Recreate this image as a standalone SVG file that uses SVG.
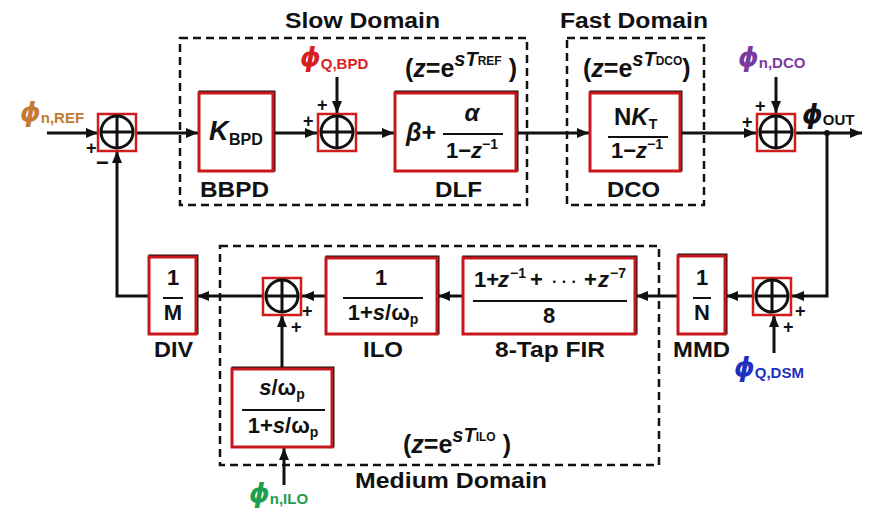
<svg xmlns="http://www.w3.org/2000/svg" width="871" height="518" viewBox="0 0 871 518">
<style>
text{font-family:"Liberation Sans",Arial,sans-serif;font-weight:bold;fill:#111}
.blk{fill:#fff;stroke:#c8161d;stroke-width:3}
.sh{fill:none;stroke:#111;stroke-width:3}
.dom{fill:none;stroke:#111;stroke-width:2.5;stroke-dasharray:8 5}
.ln{fill:none;stroke:#111;stroke-width:3}
.fr{stroke:#111;stroke-width:2}
.sq{fill:#fff;stroke:#d21c1c;stroke-width:2.5}
.cir{fill:none;stroke:#111;stroke-width:3}
.lbl{font-size:22px}
.it{font-style:italic}
.pl{font-size:18px}
.phi{font-family:"DejaVu Sans","Liberation Sans",sans-serif;font-style:italic;font-size:26px}
.sub{font-family:"Liberation Sans",Arial,sans-serif;font-style:normal;font-size:15px}
</style>
<defs>
<marker id="ah" markerUnits="userSpaceOnUse" markerWidth="12" markerHeight="10" refX="12" refY="5" orient="auto">
<path d="M0,0 L12,5 L0,10 z" fill="#111"/>
</marker>
<g id="sumSym">
<rect class="sq" x="-19" y="-18" width="38" height="37"/>
<circle class="cir" cx="0" cy="0" r="16"/>
<path d="M-16,0 H16 M0,-16 V16" stroke="#111" stroke-width="3"/>
</g>
</defs>

<!-- Domains -->
<g id="slow-domain">
<rect class="dom" x="180" y="38" width="347" height="167"/>
<text x="285" y="28" class="lbl" textLength="155" lengthAdjust="spacingAndGlyphs">Slow Domain</text>
<text x="405" y="77" font-size="25">(<tspan class="it">z</tspan>=e<tspan class="it" font-size="20" dy="-11">sT</tspan><tspan font-size="12" dy="-1">REF</tspan><tspan dy="12"> )</tspan></text>
</g>
<g id="fast-domain">
<rect class="dom" x="567" y="38" width="137" height="167"/>
<text x="560" y="28" class="lbl" textLength="148" lengthAdjust="spacingAndGlyphs">Fast Domain</text>
<text x="583" y="77" font-size="25">(<tspan class="it">z</tspan>=e<tspan class="it" font-size="20" dy="-11">sT</tspan><tspan font-size="12" dy="-1">DCO</tspan><tspan dy="12">)</tspan></text>
</g>
<g id="medium-domain">
<rect class="dom" x="220" y="246" width="439" height="219"/>
<text x="355" y="488" class="lbl" textLength="192" lengthAdjust="spacingAndGlyphs">Medium Domain</text>
<text x="403" y="453" font-size="25">(<tspan class="it">z</tspan>=e<tspan class="it" font-size="20" dy="-11">sT</tspan><tspan font-size="12" dy="-1">ILO</tspan><tspan dy="12"> )</tspan></text>
</g>

<!-- Connectors -->
<g id="connectors">
<path class="ln" d="M47,133 H98" marker-end="url(#ah)"/>
<path class="ln" d="M136,133 H198" marker-end="url(#ah)"/>
<path class="ln" d="M273,133 H317" marker-end="url(#ah)"/>
<path class="ln" d="M337,77 V113" marker-end="url(#ah)"/>
<path class="ln" d="M356,133 H394" marker-end="url(#ah)"/>
<path class="ln" d="M516,133 H589" marker-end="url(#ah)"/>
<path class="ln" d="M680,133 H756" marker-end="url(#ah)"/>
<path class="ln" d="M776,77 V113" marker-end="url(#ah)"/>
<path class="ln" d="M795,133 H862" marker-end="url(#ah)"/>
<path class="ln" d="M827,133 V296 H792" marker-end="url(#ah)"/>
<circle cx="827" cy="133" r="3" fill="#111"/>
<path class="ln" d="M774,353 V315" marker-end="url(#ah)"/>
<path class="ln" d="M752,296 H726" marker-end="url(#ah)"/>
<path class="ln" d="M678,296 H636" marker-end="url(#ah)"/>
<path class="ln" d="M463,296 H438" marker-end="url(#ah)"/>
<path class="ln" d="M326,296 H302" marker-end="url(#ah)"/>
<path class="ln" d="M282,369 V315" marker-end="url(#ah)"/>
<path class="ln" d="M284,485 V448" marker-end="url(#ah)"/>
<path class="ln" d="M262,296 H197" marker-end="url(#ah)"/>
<path class="ln" d="M149,296 H117 V151" marker-end="url(#ah)"/>
</g>

<!-- Summing nodes -->
<g id="sum-ref">
<use href="#sumSym" x="117" y="132"/>
<text x="20" y="121" class="phi" style="fill:#c47a32">ϕ<tspan class="sub" dy="2" style="fill:#c47a32">n,REF</tspan></text>
<text x="86" y="154" class="pl">+</text>
<text x="96" y="170" font-size="22">−</text>
</g>
<g id="sum-bpd">
<use href="#sumSym" x="337" y="132"/>
<text x="300" y="66" class="phi" style="fill:#d61f1f">ϕ<tspan class="sub" dy="3" style="fill:#d61f1f">Q,BPD</tspan></text>
<text x="317" y="111" class="pl">+</text>
<text x="303" y="127" class="pl">+</text>
</g>
<g id="sum-dco">
<use href="#sumSym" x="776" y="132"/>
<text x="738" y="66" class="phi" style="fill:#7b3a9e">ϕ<tspan class="sub" dy="2" style="fill:#7b3a9e">n,DCO</tspan></text>
<text x="755" y="112" class="pl">+</text>
<text x="742" y="128" class="pl">+</text>
<text x="802" y="123" class="phi">ϕ<tspan class="sub" dy="2">OUT</tspan></text>
</g>
<g id="sum-dsm">
<use href="#sumSym" x="772" y="296"/>
<text x="734" y="376" class="phi" style="fill:#1f2fbf">ϕ<tspan class="sub" dy="2" style="fill:#1f2fbf">Q,DSM</tspan></text>
<text x="795" y="317" class="pl">+</text>
<text x="783" y="333" class="pl">+</text>
</g>
<g id="sum-ilo">
<use href="#sumSym" x="282" y="296"/>
<text x="249" y="502" class="phi" style="fill:#1f9e4f">ϕ<tspan class="sub" dy="2" style="fill:#1f9e4f">n,ILO</tspan></text>
<text x="302" y="317" class="pl">+</text>
<text x="291" y="333" class="pl">+</text>
</g>

<!-- Blocks -->
<g id="bbpd">
<rect class="sh" x="200" y="92" width="74" height="78"/>
<rect class="blk" x="199" y="93" width="74" height="78"/>
<text x="209" y="140" font-size="27" class="it">K</text>
<text x="229" y="145" font-size="16">BPD</text>
<text x="200" y="197" class="lbl" textLength="69" lengthAdjust="spacingAndGlyphs">BBPD</text>
</g>
<g id="dlf">
<rect class="sh" x="396" y="92" width="121" height="78"/>
<rect class="blk" x="395" y="93" width="121" height="78"/>
<text x="406" y="141" font-size="25"><tspan class="it">β</tspan>+</text>
<text x="472" y="121" font-size="24" class="it" text-anchor="middle">α</text>
<line class="fr" x1="443" y1="134" x2="503" y2="134"/>
<text x="446" y="158" font-size="22">1−<tspan class="it">z</tspan><tspan font-size="14" dy="-9">−1</tspan></text>
<text x="435" y="197" class="lbl" textLength="47" lengthAdjust="spacingAndGlyphs">DLF</text>
</g>
<g id="dco">
<rect class="sh" x="591" y="92" width="90" height="78"/>
<rect class="blk" x="590" y="93" width="90" height="78"/>
<text x="614" y="125" font-size="24">N<tspan class="it">K</tspan><tspan font-size="14" dy="4">T</tspan></text>
<line class="fr" x1="608" y1="137" x2="668" y2="137"/>
<text x="611" y="158" font-size="22">1−<tspan class="it">z</tspan><tspan font-size="14" dy="-9">−1</tspan></text>
<text x="607" y="197" class="lbl" textLength="53" lengthAdjust="spacingAndGlyphs">DCO</text>
</g>
<g id="mmd">
<rect class="sh" x="679" y="255" width="47" height="78"/>
<rect class="blk" x="678" y="256" width="47" height="78"/>
<text x="702" y="285" font-size="22" text-anchor="middle">1</text>
<line class="fr" x1="693" y1="298" x2="711" y2="298"/>
<text x="702" y="320" font-size="22" text-anchor="middle">N</text>
<text x="673" y="357" class="lbl" textLength="57" lengthAdjust="spacingAndGlyphs">MMD</text>
</g>
<g id="fir">
<rect class="sh" x="464" y="257" width="172" height="76"/>
<rect class="blk" x="463" y="258" width="172" height="76"/>
<text y="287" font-size="22"><tspan x="474">1+</tspan><tspan x="498" class="it">z</tspan><tspan x="510" y="278" font-size="14">−1</tspan><tspan x="530" y="287">+</tspan><tspan x="552" font-size="16">· · ·</tspan><tspan x="584">+</tspan><tspan x="598" class="it">z</tspan><tspan x="610" y="278" font-size="14">−7</tspan></text>
<line class="fr" x1="473" y1="301" x2="627" y2="301"/>
<text x="549" y="323" font-size="22" text-anchor="middle">8</text>
<text x="495" y="357" class="lbl" textLength="110" lengthAdjust="spacingAndGlyphs">8-Tap FIR</text>
</g>
<g id="ilo">
<rect class="sh" x="327" y="257" width="111" height="76"/>
<rect class="blk" x="326" y="258" width="111" height="76"/>
<text x="381" y="285" font-size="22" text-anchor="middle">1</text>
<line class="fr" x1="343" y1="298" x2="423" y2="298"/>
<text x="383" y="320" font-size="22" text-anchor="middle">1+<tspan class="it">s</tspan>/ω<tspan font-size="14" dy="4">p</tspan></text>
<text x="363" y="357" class="lbl" textLength="40" lengthAdjust="spacingAndGlyphs">ILO</text>
</g>
<g id="hpf">
<rect class="sh" x="233" y="368" width="100" height="78"/>
<rect class="blk" x="232" y="369" width="100" height="78"/>
<text x="282" y="395" font-size="22" text-anchor="middle"><tspan class="it">s</tspan>/ω<tspan font-size="14" dy="4">p</tspan></text>
<line class="fr" x1="242" y1="410" x2="325" y2="410"/>
<text x="283" y="433" font-size="22" text-anchor="middle">1+<tspan class="it">s</tspan>/ω<tspan font-size="14" dy="4">p</tspan></text>
</g>
<g id="div">
<rect class="sh" x="150" y="256" width="47" height="77"/>
<rect class="blk" x="149" y="257" width="47" height="77"/>
<text x="173" y="285" font-size="22" text-anchor="middle">1</text>
<line class="fr" x1="163" y1="298" x2="183" y2="298"/>
<text x="173" y="320" font-size="22" text-anchor="middle">M</text>
<text x="154" y="357" class="lbl" textLength="39" lengthAdjust="spacingAndGlyphs">DIV</text>
</g>
</svg>
